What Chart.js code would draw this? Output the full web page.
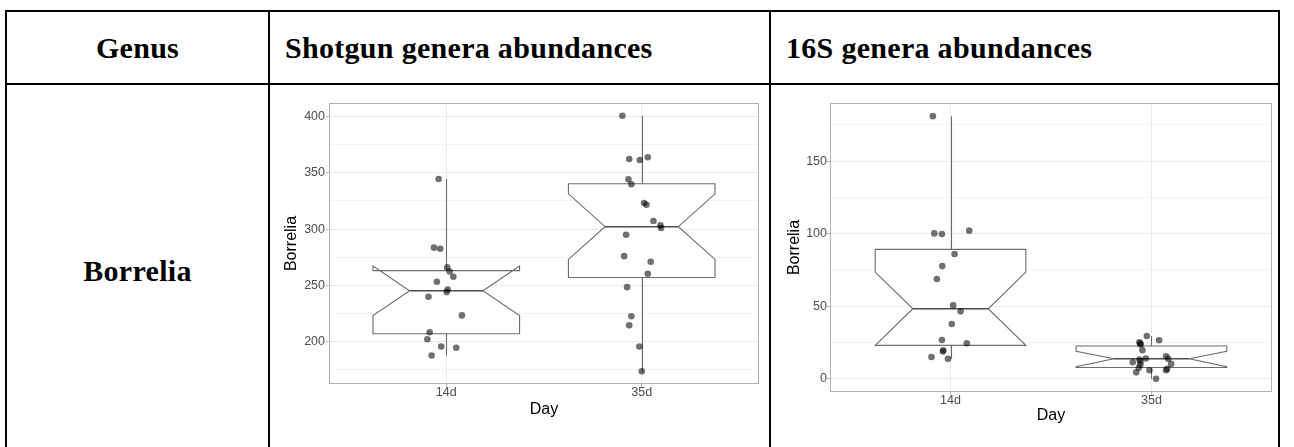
<!DOCTYPE html>
<html>
<head>
<meta charset="utf-8">
<script src="https://cdn.jsdelivr.net/npm/chart.js@4/dist/chart.umd.min.js"></script>
<style>
  html, body { margin: 0; padding: 0; background: #fff; width: 1294px; height: 447px; overflow: hidden; }
  body { position: relative; }
  .rule { position: absolute; background: #000; }
  .cell {
    position: absolute; display: flex; align-items: center;
    font-family: "Liberation Serif", "Times New Roman", serif;
    font-weight: bold; font-size: 30px; letter-spacing: 0.3px; color: #000; white-space: nowrap;
  }
  .panel { position: absolute; }
  .panel canvas { display: block; }
</style>
</head>
<body>
  <!-- table rules -->
  <div class="rule" style="left:5px;top:10px;width:1275px;height:2px"></div>
  <div class="rule" style="left:5px;top:83px;width:1275px;height:2px"></div>
  <div class="rule" style="left:5px;top:10px;width:2px;height:440px"></div>
  <div class="rule" style="left:268px;top:10px;width:2px;height:440px"></div>
  <div class="rule" style="left:769px;top:10px;width:2px;height:440px"></div>
  <div class="rule" style="left:1278px;top:10px;width:2px;height:440px"></div>

  <!-- header row -->
  <div class="cell" style="left:7px;top:12px;width:261px;height:71px;justify-content:center">Genus</div>
  <div class="cell" style="left:285px;top:12px;height:71px">Shotgun genera abundances</div>
  <div class="cell" style="left:786px;top:12px;height:71px">16S genera abundances</div>

  <!-- genus label -->
  <div class="cell" style="left:7px;top:251px;width:261px;height:40px;justify-content:center">Borrelia</div>

  <div class="panel" style="left:272px;top:92px;width:492px;height:335px">
    <canvas id="shotgun" width="492" height="335"></canvas>
  </div>
  <div class="panel" style="left:773px;top:92px;width:505px;height:335px">
    <canvas id="s16" width="505" height="335"></canvas>
  </div>

<script>
// ---- categories ----
const days = ['14d', '35d'];

// ---- shotgun abundances: box summaries per day ----
const shotgunWhiskerLow  = [187.8, 173.9];
const shotgunQ1          = [207.1, 257.1];
const shotgunMedian      = [245.3, 302.1];
const shotgunQ3          = [263.1, 340.2];
const shotgunWhiskerHigh = [344.4, 400.5];
const shotgunNotchLow    = [223.4, 273.1];
const shotgunNotchHigh   = [267.2, 331.3];

// shotgun samples
const shotgun14d = [344.4, 283.5, 282.6, 266.0, 262.4, 257.7, 253.3, 246.4, 244.1, 240.0, 223.4, 208.5, 202.3, 195.8, 194.7, 187.8];
const shotgun14dJitter = [-0.039, -0.063, -0.031, 0.005, 0.017, 0.036, -0.048, 0.007, 0.002, -0.091, 0.080, -0.085, -0.097, -0.026, 0.051, -0.075];
const shotgun35d = [400.5, 362.2, 361.3, 363.7, 344.1, 339.7, 323.1, 321.6, 307.1, 303.3, 300.9, 295.0, 276.0, 271.0, 260.4, 248.5, 222.7, 214.7, 195.8, 173.9];
const shotgun35dJitter = [-0.099, -0.064, -0.010, 0.031, -0.068, -0.053, 0.012, 0.024, 0.060, 0.096, 0.099, -0.080, -0.090, 0.046, 0.031, -0.075, -0.053, -0.064, -0.012, 0.000];

// ---- 16S abundances: box summaries per day ----
const s16WhiskerLow  = [13.8, 0.0];
const s16Q1          = [23.1, 7.8];
const s16Median      = [48.3, 13.8];
const s16Q3          = [89.2, 22.6];
const s16WhiskerHigh = [181.0, 29.5];
const s16NotchLow    = [23.0, 8.4];
const s16NotchHigh   = [73.6, 19.0];

// 16S samples
const s16_14d = [181.0, 100.2, 99.8, 102.1, 86.0, 77.7, 68.8, 50.6, 46.5, 37.8, 26.8, 24.5, 19.7, 18.8, 15.1, 13.8];
const s16_14dJitter = [-0.088, -0.081, -0.043, 0.093, 0.020, -0.041, -0.068, 0.013, 0.050, 0.006, -0.043, 0.081, -0.036, -0.038, -0.095, -0.013];
const s16_35d = [29.5, 26.6, 25.2, 23.6, 24.4, 19.7, 14.0, 13.3, 15.6, 13.8, 11.4, 9.8, 10.3, 5.9, 4.5, 5.9, 0.0, 7.6, 7.0, 12.0];
const s16_35dJitter = [-0.023, 0.038, -0.060, -0.053, -0.056, -0.045, -0.028, -0.060, 0.073, 0.083, -0.093, -0.055, 0.098, -0.010, -0.076, 0.073, 0.023, -0.063, 0.078, -0.055];

// ---- axis ticks ----
const shotgunTicks = [175, 200, 225, 250, 275, 300, 325, 350, 375, 400];
const s16Ticks = [0, 25, 50, 75, 100, 125, 150, 175];

const BOX_WIDTH = 0.75;
const NOTCH_WIDTH = 0.5;
const BOX_LINE = '#6c6c6c';
const PANEL_LINE = '#b3b3b3';

// notched box-and-whisker drawn behind the jittered points
const notchedBoxes = {
  id: 'notchedBoxes',
  beforeDatasetsDraw(chart, args, opts) {
    const s = opts.stats;
    if (!s) return;
    const { ctx, scales: { x, y } } = chart;
    ctx.save();
    ctx.lineJoin = 'miter';
    for (let i = 0; i < s.median.length; i++) {
      const c = i + 1;
      const half = BOX_WIDTH / 2;
      const xl = x.getPixelForValue(c - half);
      const xr = x.getPixelForValue(c + half);
      const xc = Math.round(x.getPixelForValue(c)) + 0.5;
      const nil = x.getPixelForValue(c - half * NOTCH_WIDTH);
      const nir = x.getPixelForValue(c + half * NOTCH_WIDTH);
      const yq1 = y.getPixelForValue(s.q1[i]);
      const yq3 = y.getPixelForValue(s.q3[i]);
      const ymed = y.getPixelForValue(s.median[i]);
      const ynl = y.getPixelForValue(s.notchLow[i]);
      const ynh = y.getPixelForValue(s.notchHigh[i]);

      // whiskers
      ctx.strokeStyle = BOX_LINE;
      ctx.lineWidth = 1.1;
      ctx.beginPath();
      ctx.moveTo(xc, yq3);
      ctx.lineTo(xc, y.getPixelForValue(s.whiskerHigh[i]));
      ctx.moveTo(xc, yq1);
      ctx.lineTo(xc, y.getPixelForValue(s.whiskerLow[i]));
      ctx.stroke();

      // notched box
      ctx.beginPath();
      ctx.moveTo(xl, yq3);
      ctx.lineTo(xl, ynh);
      ctx.lineTo(nil, ymed);
      ctx.lineTo(xl, ynl);
      ctx.lineTo(xl, yq1);
      ctx.lineTo(xr, yq1);
      ctx.lineTo(xr, ynl);
      ctx.lineTo(nir, ymed);
      ctx.lineTo(xr, ynh);
      ctx.lineTo(xr, yq3);
      ctx.closePath();
      ctx.fillStyle = '#ffffff';
      ctx.fill();
      ctx.stroke();

      // median
      ctx.strokeStyle = '#4d4d4d';
      ctx.lineWidth = 1.5;
      ctx.beginPath();
      ctx.moveTo(nil, ymed);
      ctx.lineTo(nir, ymed);
      ctx.stroke();
    }
    ctx.restore();
  },
  afterDatasetsDraw(chart) {
    const { ctx, chartArea: a } = chart;
    ctx.save();
    ctx.strokeStyle = PANEL_LINE;
    ctx.lineWidth = 1;
    ctx.strokeRect(Math.round(a.left) + 0.5, Math.round(a.top) + 0.5,
                   Math.round(a.right - a.left) - 1, Math.round(a.bottom - a.top) - 1);
    ctx.restore();
  }
};

function jittered(values, jitter, cat) {
  return values.map((v, i) => ({ x: cat + jitter[i], y: v }));
}

function pad(values) {
  const lo = Math.min(...values), hi = Math.max(...values);
  const e = (hi - lo) * 0.05;
  return [lo - e, hi + e];
}

const tickFont = { family: '"Liberation Sans", Arial, sans-serif', size: 12.5, lineHeight: 1 };
const titleFont = { family: '"Liberation Sans", Arial, sans-serif', size: 16, lineHeight: 1.2 };

function makePanel(id, cfg) {
  const [ymin, ymax] = pad(cfg.all);
  return new Chart(document.getElementById(id), {
    type: 'scatter',
    data: {
      datasets: [{
        data: cfg.points,
        pointRadius: 3.3,
        pointBackgroundColor: 'rgba(0,0,0,0.56)',
        pointBorderWidth: 0,
        pointHoverRadius: 3.3
      }]
    },
    plugins: [notchedBoxes],
    options: {
      responsive: false,
      animation: false,
      events: [],
      layout: { padding: cfg.padding },
      plugins: {
        legend: { display: false },
        tooltip: { enabled: false },
        notchedBoxes: { stats: cfg.stats }
      },
      scales: {
        x: {
          type: 'linear',
          min: 0.4, max: 2.6,
          afterBuildTicks: s => { s.ticks = days.map((d, i) => ({ value: i + 1 })); },
          afterFit: s => { s.height = cfg.xAxisHeight; },
          ticks: {
            callback: v => days[Math.round(v) - 1] ?? '',
            font: tickFont, color: '#4d4d4d', padding: -1, maxRotation: 0
          },
          grid: { color: '#ebebeb', lineWidth: 1, tickColor: PANEL_LINE, tickLength: 3 },
          border: { display: false },
          title: { display: true, text: 'Day', font: titleFont, color: '#000', padding: { top: 0, bottom: cfg.xTitlePad } }
        },
        y: {
          type: 'linear',
          min: ymin, max: ymax,
          afterBuildTicks: s => { s.ticks = cfg.ticks.map(v => ({ value: v })); },
          afterFit: s => { s.width = 57; },
          ticks: {
            callback: v => (v % 50 === 0 ? String(v) : ''),
            font: tickFont, color: '#4d4d4d', padding: cfg.yTickPad
          },
          grid: {
            color: c => (c.tick && c.tick.value % 50 === 0 ? '#ebebeb' : '#f4f4f4'),
            lineWidth: 1,
            tickColor: c => (c.tick && c.tick.value % 50 === 0 ? PANEL_LINE : 'rgba(0,0,0,0)'),
            tickLength: 3
          },
          border: { display: false },
          title: { display: true, text: 'Borrelia', font: titleFont, color: '#000', padding: { top: cfg.yTitlePad, bottom: 0 } }
        }
      }
    }
  });
}

makePanel('shotgun', {
  all: shotgun14d.concat(shotgun35d),
  points: jittered(shotgun14d, shotgun14dJitter, 1).concat(jittered(shotgun35d, shotgun35dJitter, 2)),
  ticks: shotgunTicks,
  stats: {
    whiskerLow: shotgunWhiskerLow, q1: shotgunQ1, median: shotgunMedian, q3: shotgunQ3,
    whiskerHigh: shotgunWhiskerHigh, notchLow: shotgunNotchLow, notchHigh: shotgunNotchHigh
  },
  padding: { top: 11, right: 5, left: 0, bottom: 0 },
  xAxisHeight: 43,
  xTitlePad: 8,
  yTitlePad: 10,
  yTickPad: 1
});

makePanel('s16', {
  all: s16_14d.concat(s16_35d),
  points: jittered(s16_14d, s16_14dJitter, 1).concat(jittered(s16_35d, s16_35dJitter, 2)),
  ticks: s16Ticks,
  stats: {
    whiskerLow: s16WhiskerLow, q1: s16Q1, median: s16Median, q3: s16Q3,
    whiskerHigh: s16WhiskerHigh, notchLow: s16NotchLow, notchHigh: s16NotchHigh
  },
  padding: { top: 11, right: 6, left: 0, bottom: 0 },
  xAxisHeight: 35,
  xTitlePad: 1.4,
  yTitlePad: 12.4,
  yTickPad: 0
});
</script>
</body>
</html>
